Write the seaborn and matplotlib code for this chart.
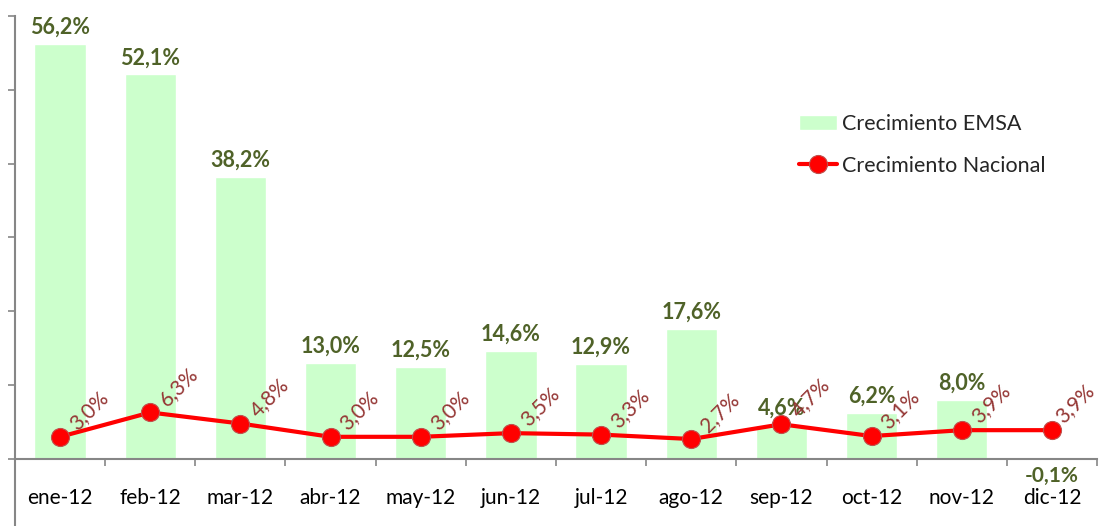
import numpy as np
import pandas as pd
import matplotlib
matplotlib.use("Agg")
import matplotlib.pyplot as plt
import seaborn as sns
from matplotlib.ticker import FixedLocator, NullFormatter

months = ["ene-12", "feb-12", "mar-12", "abr-12", "may-12", "jun-12",
          "jul-12", "ago-12", "sep-12", "oct-12", "nov-12", "dic-12"]
emsa = [56.2, 52.1, 38.2, 13.0, 12.5, 14.6, 12.9, 17.6, 4.6, 6.2, 8.0, -0.1]
nacional = [3.0, 6.3, 4.8, 3.0, 3.0, 3.5, 3.3, 2.7, 4.7, 3.1, 3.9, 3.9]

sns.set_theme(style="white")
plt.rcParams['font.family'] = ['Lato', 'DejaVu Sans']

df = pd.DataFrame({"mes": months, "emsa": emsa, "nacional": nacional,
                   "pos": np.arange(len(months))})

fig = plt.figure(figsize=(11.01, 5.26), dpi=100)
ax = fig.add_axes([15 / 1101, 0, 1082 / 1101, 510 / 526])

sns.barplot(data=df, x="mes", y="emsa", color="#CCFFCC", width=0.57,
            saturation=1, ax=ax, label="Crecimiento EMSA")
sns.lineplot(data=df, x="pos", y="nacional", color="#FF0000", linewidth=3,
             marker="o", markersize=13, markeredgecolor="#C0504D",
             markeredgewidth=0.8, ax=ax, label="Crecimiento Nacional")

ax.set_xlim(-0.5, 11.5)
ax.set_ylim(-9.08, 60)

# spines
for s in ["top", "right"]:
    ax.spines[s].set_visible(False)
ax.spines["bottom"].set_position(("data", 0))
for s in ["left", "bottom"]:
    ax.spines[s].set_color("#868686")
    ax.spines[s].set_linewidth(1.5)

ax.set_yticks(np.arange(0, 61, 10))
ax.yaxis.set_major_formatter(NullFormatter())
ax.tick_params(axis="y", direction="out", length=5, width=1.2, color="#868686", left=True)

ax.set_xticks(np.arange(len(months)))
ax.set_xticklabels(months)
ax.xaxis.set_minor_locator(FixedLocator(np.arange(0.5, 11.6, 1.0)))
ax.tick_params(axis="x", which="major", length=0, pad=21, labelsize=15, labelcolor="black")
ax.tick_params(axis="x", which="minor", direction="out", length=5, width=1.2,
               color="#868686", bottom=True)
ax.set_xlabel("")
ax.set_ylabel("")
ax.grid(False)

# bar labels
for i, v in enumerate(emsa):
    lab = f"{v:.1f}%".replace(".", ",")
    if v >= 0:
        ax.annotate(lab, (i, v), xytext=(0, 6), textcoords="offset pixels",
                    ha="center", va="bottom", fontsize=15.5, fontweight="bold",
                    color="#4F6228")
    else:
        ax.annotate(lab, (i, v), xytext=(0, -6), textcoords="offset pixels",
                    ha="center", va="top", fontsize=15, fontweight="bold",
                    color="#4F6228")

# line labels
n = len(nacional)
for i, v in enumerate(nacional):
    lab = f"{v:.1f}%".replace(".", ",")
    dx = 17 if i < n - 1 else 11
    ax.annotate(lab, (i, v), xytext=(dx, 6), textcoords="offset pixels",
                ha="left", va="baseline", rotation=45, rotation_mode="anchor",
                fontsize=15, color="#953735")

handles, labels = ax.get_legend_handles_labels()
order = [labels.index("Crecimiento EMSA"), labels.index("Crecimiento Nacional")]
leg = ax.legend([handles[k] for k in order], [labels[k] for k in order],
                loc="upper left", bbox_to_anchor=(0.708, 0.82),
                bbox_transform=fig.transFigure, frameon=False, fontsize=15.5,
                handlelength=1.75, labelspacing=1.0, handletextpad=0.25)

fig.savefig("out.png", dpi=100)
